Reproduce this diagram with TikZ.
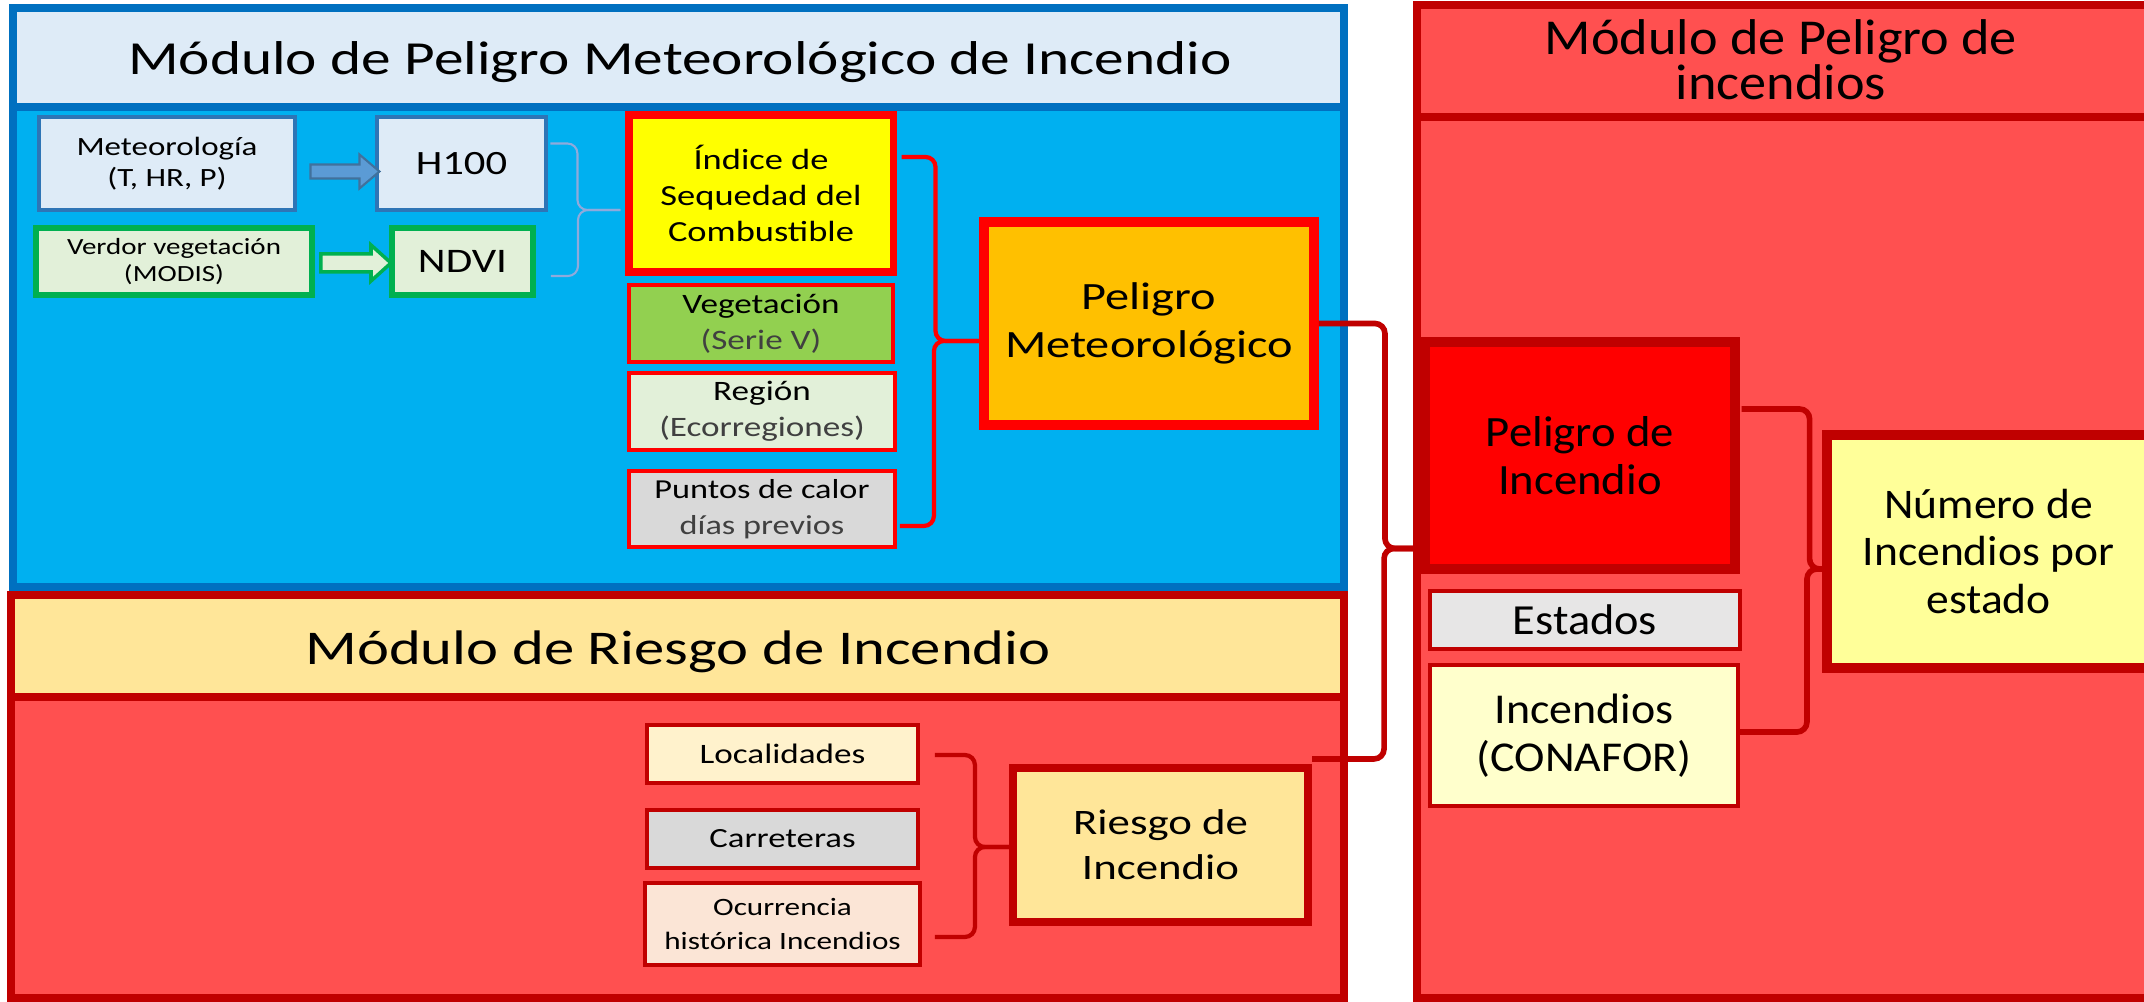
\documentclass[tikz,border=0pt]{standalone}
\usepackage{fontspec}
\setmainfont{Carlito}[FakeStretch=1.25]
\newfontfamily\rfont{Carlito}[FakeStretch=1.08]
\usetikzlibrary{calc,positioning}

\definecolor{metblue}{HTML}{0070C0}
\definecolor{metsky}{HTML}{00B0F0}
\definecolor{metpale}{HTML}{DEEBF7}
\definecolor{boxblue}{HTML}{2E75B6}
\definecolor{arrblue}{HTML}{5B9BD5}
\definecolor{arredge}{HTML}{41719C}
\definecolor{vgreen}{HTML}{00B050}
\definecolor{vpale}{HTML}{E2F0D9}
\definecolor{vleaf}{HTML}{92D050}
\definecolor{lgrey}{HTML}{D9D9D9}
\definecolor{sgrey}{HTML}{E7E6E6}
\definecolor{fuel}{HTML}{FFFF00}
\definecolor{amber}{HTML}{FFC000}
\definecolor{dred}{HTML}{C00000}
\definecolor{salmon}{HTML}{FF5050}
\definecolor{sand}{HTML}{FFE699}
\definecolor{cream}{HTML}{FFF2CC}
\definecolor{peach}{HTML}{FBE5D6}
\definecolor{lemon}{HTML}{FFFFCC}
\definecolor{canary}{HTML}{FFFF99}
\definecolor{thinlink}{HTML}{8FAADC}
\definecolor{subtxt}{HTML}{404040}

\newcommand\fsz[2]{\fontsize{#1}{#2}\selectfont}

\begin{document}
\begin{tikzpicture}[x=0.1mm,y=-0.1mm,
  box/.style={rectangle,align=center,inner sep=0pt,text=black},
  wh/.style 2 args={minimum width=#1mm,minimum height=#2mm},
  metbox/.style={box,fill=metpale,draw=boxblue,line width=1.4pt},
  ndvibox/.style={box,fill=vpale,draw=vgreen,line width=1.7pt},
  inbox/.style={box,draw=red,line width=1.1pt},
  keybox/.style={box,draw=red,line width=2.6pt},
  riskin/.style={box,draw=dred,line width=1.1pt},
  bigbox/.style={box,draw=dred,line width=2.6pt},
  bluelink/.style={draw=thinlink,line width=0.6pt,rounded corners=1mm},
  redlink/.style={draw=red,line width=1.2pt,rounded corners=1mm},
  darklink/.style={draw=dred,line width=1.6pt,rounded corners=1mm}]
  \useasboundingbox (0,0) rectangle (2144,1002);
  \fill[white] (0,0) rectangle (2144,1002);
  \clip (0,0) rectangle (2144,1002);

  % modules
  \draw[line width=2.3pt,draw=metblue,fill=metsky] (13,8) rectangle (1344,587);
  \draw[line width=2.3pt,draw=metblue,fill=metpale] (13,8) rectangle (1344,107);
  \node[anchor=base,font={\fsz{13.5}{16}}] (tmet) at (680,75)
    {Módulo de Peligro Meteorológico de Incendio};

  \draw[line width=2.3pt,draw=dred,fill=salmon] (11,595) rectangle (1344,998);
  \draw[line width=2.3pt,draw=dred,fill=sand] (11,595) rectangle (1344,697);
  \node[anchor=base,font={\fsz{13.8}{16}}] (triesgo) at (678,665)
    {Módulo de Riesgo de Incendio};

  \draw[line width=2.1pt,draw=dred,fill=salmon] (1417,5) rectangle (2150,998);
  \draw[line width=2.1pt,draw=dred] (1417,117) -- (2150,117);
  \node[box,font={\rfont\fsz{14.3}{12.8}}] (tpel) at (1781,60)
    {Módulo de Peligro de\\incendios};

  % boxes
  \node[metbox,wh={25.6}{9.3},font={\fsz{7.5}{8.9}}] (meteo) at (167,163.5)
    {Meteorología\\(T, HR, P)};
  \node[metbox,wh={16.9}{9.3},font={\fsz{9.7}{11}}] (h100) at (461.5,163.5) {H100};
  \node[ndvibox,wh={27.6}{6.7},font={\fsz{6.6}{7.7}}] (verdor) at (174,261.5)
    {Verdor vegetación\\(MODIS)};
  \node[ndvibox,wh={14.1}{6.7},font={\fsz{9.8}{11}}] (ndvi) at (462.5,261.5) {NDVI};

  \node[keybox,line width=2pt,fill=fuel,wh={26.4}{15.7},font={\fsz{8.3}{10.3}}] (indice) at (761,193.5)
    {Índice de\\Sequedad del\\Combustible};
  \node[inbox,fill=vleaf,wh={26.4}{7.7},font={\fsz{8}{10.3}}] (veget) at (761,323.5)
    {Vegetación\\{\color{subtxt}(Serie V)}};
  \node[inbox,fill=vpale,wh={26.6}{7.7},font={\fsz{8}{10.3}}] (region) at (762,411.5)
    {Región\\{\color{subtxt}(Ecorregiones)}};
  \node[inbox,fill=lgrey,wh={26.6}{7.6},font={\fsz{7.8}{10.3}}] (puntos) at (762,509)
    {Puntos de calor\\{\color{subtxt}días previos}};
  \node[keybox,line width=2.8pt,fill=amber,wh={33}{20.3},font={\fsz{11}{13.6}}] (pmet) at (1149,323.5)
    {Peligro\\Meteorológico};

  \node[riskin,fill=cream,wh={27.1}{5.8},font={\fsz{8}{9.5}}] (local) at (782.5,754) {Localidades};
  \node[riskin,fill=lgrey,wh={27.1}{5.8},font={\fsz{7.9}{9.5}}] (carret) at (782.5,839) {Carreteras};
  \node[riskin,fill=peach,wh={27.5}{8.2},font={\fsz{7.1}{9.5}}] (ocurr) at (782.5,924)
    {Ocurrencia\\histórica Incendios};
  \node[bigbox,line width=2.3pt,fill=sand,wh={29.5}{15.4},font={\fsz{10.2}{12.8}}] (riesgo) at (1160.5,845)
    {Riesgo de\\Incendio};

  \node[bigbox,fill=red,wh={31}{22.7},font={\rfont\fsz{12.3}{13.6}}] (pinc) at (1580,455.5)
    {Peligro de\\Incendio};
  \node[riskin,fill=sgrey,wh={31}{5.8},font={\rfont\fsz{12.2}{13.6}}] (estados) at (1585,620) {Estados};
  \node[riskin,fill=lemon,wh={30.8}{14.1},font={\rfont\fsz{12.1}{13.6}}] (incend) at (1584,735.5)
    {Incendios\\(CONAFOR)};
  \node[bigbox,fill=canary,wh={32.3}{23.3},font={\rfont\fsz{12}{13.6}}] (numero) at (1988.5,551.5)
    {Número de\\Incendios por\\estado};

  % block arrows
  \draw[fill=arrblue,draw=arredge,line width=0.6pt] ($(meteo.east)+(13,1)$)
    -- ++(49,0) -- ++(0,-10) -- ++(20,17) -- ++(-20,17) -- ++(0,-10) -- ++(-49,0) -- cycle;
  \draw[fill=vpale,draw=vgreen,line width=1pt] ($(verdor.east)+(6,-7.5)$)
    -- ++(50,0) -- ++(0,-9) -- ++(20,18) -- ++(-20,18) -- ++(0,-9) -- ++(-50,0) -- cycle;

  % brackets
  \draw[bluelink] ($(h100.east)+(2,-20)$) -- ++(27,0) |- ($(indice.west)+(-5,16.5)$);
  \draw[bluelink] ($(ndvi.east)+(15,14.5)$) -- ++(27,0) |- ($(indice.west)+(-5,16.5)$);

  \draw[redlink] ($(indice.east)+(5,-36.5)$) -- ++(34,0) |- ($(pmet.west)+(0,17.5)$);
  \draw[redlink] ($(puntos.east)+(3,17)$) -- ++(34,0) |- ($(pmet.west)+(0,17.5)$);

  \draw[redlink,draw=dred] ($(local.east)+(15,1)$) -- ++(40,0) |- ($(riesgo.west)+(0,2)$);
  \draw[redlink,draw=dred] ($(ocurr.east)+(13,13)$) -- ++(40,0) |- ($(riesgo.west)+(0,2)$);

  \draw[darklink] (pmet.east) -- ++(66,0) |- ($(pinc.west)+(0,93)$);
  \draw[darklink] ($(riesgo.north east)+(0,-5)$) -- ++(72,0) |- ($(pinc.west)+(0,93)$);

  \draw[darklink] ($(pinc.east)+(2,-46.5)$) -- ++(68,0) |- ($(numero.west)+(0,17.5)$);
  \draw[darklink] ($(incend.east)+(0,-3.5)$) -- ++(67,0) |- ($(numero.west)+(0,17.5)$);
\end{tikzpicture}
\end{document}
